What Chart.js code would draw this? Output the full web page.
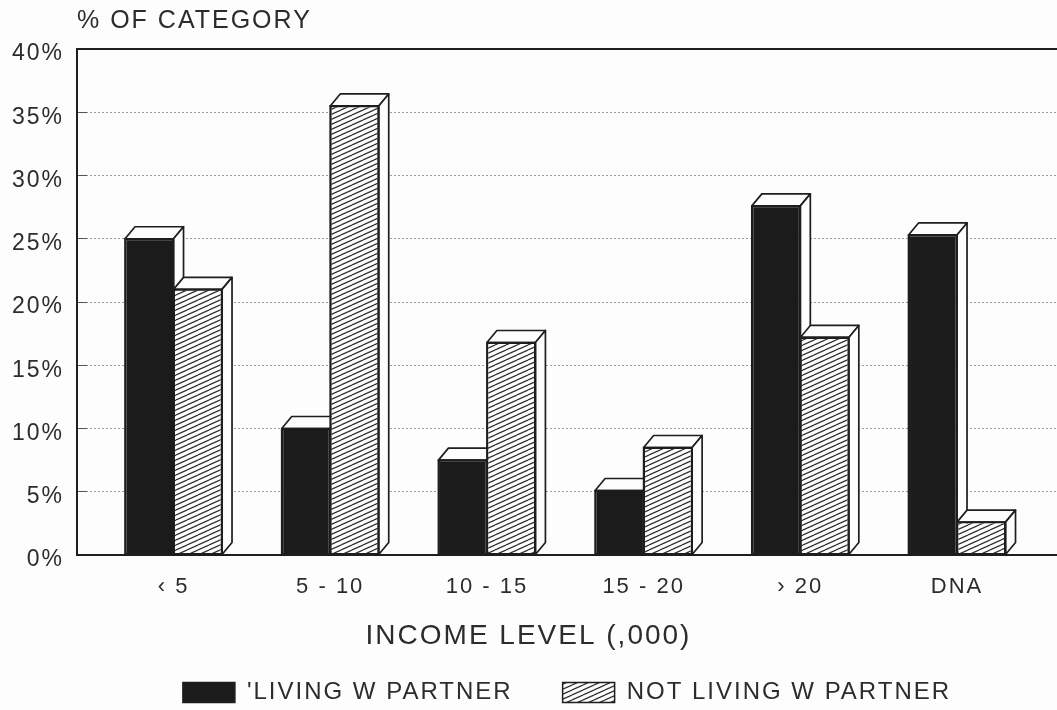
<!DOCTYPE html>
<html>
<head>
<meta charset="utf-8">
<script src="https://cdn.jsdelivr.net/npm/chart.js@4.4.1/dist/chart.umd.min.js"></script>
<style>
  html, body { margin: 0; padding: 0; background: #fdfdfd; }
  #wrap { position: relative; width: 1057px; height: 710px; }
</style>
</head>
<body>
<div id="wrap"><canvas id="chart"></canvas></div>
<script>
// Income level groups (thousands)
const categories = ['‹ 5', '5 - 10', '10 - 15', '15 - 20', '› 20', 'DNA'];
// Share of each income group, percent
const livingWithPartner    = [25, 10, 7.5, 5.1, 27.6, 25.3];
const notLivingWithPartner = [21, 35.5, 16.8, 8.5, 17.2, 2.6];
// Value axis
const yTicks = { min: 0, max: 40, step: 5 };
const seriesNames = ["'LIVING W PARTNER", 'NOT LIVING W PARTNER'];

const INK = '#1e1e1e';
const TEXT = '#2c2c2c';
const PAPER = '#fdfdfd';
const DEPTH_X = 10, DEPTH_Y = 12;   // extrusion of the 3-D bar faces
const X_MIN = -0.616, X_MAX = 5.638;

function hatchPattern() {
  const c = document.createElement('canvas');
  c.width = 11; c.height = 5;
  const g = c.getContext('2d');
  g.fillStyle = PAPER;
  g.fillRect(0, 0, 11, 5);
  g.strokeStyle = '#2a2a2a';
  g.lineWidth = 1.2;
  for (const off of [-5, 0, 5]) {
    g.beginPath();
    g.moveTo(0, 5 + off);
    g.lineTo(11, off);
    g.stroke();
  }
  return g.createPattern(c, 'repeat');
}
const hatch = hatchPattern();

Chart.defaults.font.family = "'Liberation Sans', Arial, sans-serif";
Chart.defaults.color = TEXT;

// wide letter spacing for all canvas text
const spacedText = {
  id: 'spacedText',
  beforeUpdate(chart) { chart.ctx.letterSpacing = '2px'; },
  beforeLayout(chart) { chart.ctx.letterSpacing = '2px'; },
  beforeDraw(chart) {
    const ctx = chart.ctx;
    ctx.letterSpacing = '2px';
    ctx.save();
    ctx.fillStyle = PAPER;
    ctx.fillRect(0, 0, chart.width, chart.height);
    ctx.restore();
  }
};

// draws the bars category by category, adding top and side faces
const blockBars = {
  id: 'blockBars',
  beforeDatasetsDraw(chart) {
    const ctx = chart.ctx;
    const metas = chart.getSortedVisibleDatasetMetas();
    for (let i = 0; i < categories.length; i++) {
      metas.forEach(meta => {
        const el = meta.data[i];
        if (!el) return;
        el.draw(ctx);
        const { x, y, base, width } = el.getProps(['x', 'y', 'base', 'width'], true);
        const l = x - width / 2, r = x + width / 2;
        ctx.save();
        ctx.fillStyle = PAPER;
        ctx.strokeStyle = INK;
        ctx.lineWidth = 1.7;
        ctx.lineJoin = 'round';
        ctx.beginPath();
        ctx.moveTo(l, y);
        ctx.lineTo(l + DEPTH_X, y - DEPTH_Y);
        ctx.lineTo(r + DEPTH_X, y - DEPTH_Y);
        ctx.lineTo(r, y);
        ctx.closePath();
        ctx.fill(); ctx.stroke();
        ctx.beginPath();
        ctx.moveTo(r, y);
        ctx.lineTo(r + DEPTH_X, y - DEPTH_Y);
        ctx.lineTo(r + DEPTH_X, base - DEPTH_Y);
        ctx.lineTo(r, base);
        ctx.closePath();
        ctx.fill(); ctx.stroke();
        ctx.beginPath();
        ctx.rect(l, y, width, base - y);
        ctx.stroke();
        ctx.restore();
      });
    }
    return false;
  }
};

new Chart(document.getElementById('chart'), {
  type: 'bar',
  data: {
    datasets: [
      {
        label: seriesNames[0],
        data: livingWithPartner.map((v, i) => ({ x: i, y: v })),
        backgroundColor: '#1b1b1b',
        borderColor: INK,
        borderWidth: 1.5,
        borderSkipped: false
      },
      {
        label: seriesNames[1],
        data: notLivingWithPartner.map((v, i) => ({ x: i, y: v })),
        backgroundColor: hatch,
        borderColor: INK,
        borderWidth: 1.5,
        borderSkipped: false
      }
    ]
  },
  options: {
    responsive: true,
    maintainAspectRatio: false,
    animation: false,
    events: [],
    layout: { padding: { top: 0, left: 0, right: 0, bottom: -4.6 } },
    datasets: { bar: { categoryPercentage: 0.619, barPercentage: 1 } },
    scales: {
      x: {
        type: 'linear',
        position: 'bottom',
        offset: false,
        min: X_MIN, max: X_MAX,
        afterBuildTicks(axis) { axis.ticks = categories.map((_, i) => ({ value: i })); },
        afterFit(axis) { axis.height = 50; },
        ticks: {
          autoSkip: false,
          maxRotation: 0,
          padding: 19,
          font: { size: 22 },
          color: TEXT,
          callback: v => categories[v]
        },
        grid: { display: false, drawTicks: false },
        border: { display: true, color: INK, width: 2 }
      },
      x2: {
        type: 'linear',
        position: 'top',
        offset: false,
        min: X_MIN, max: X_MAX,
        afterFit(axis) { axis.height = 49; },
        ticks: { display: false },
        grid: { display: false, drawTicks: false },
        border: { display: true, color: INK, width: 2 },
        title: {
          display: true,
          text: '% OF CATEGORY',
          align: 'start',
          color: TEXT,
          font: { size: 25 },
          padding: { top: 6, bottom: 0 }
        }
      },
      y: {
        min: yTicks.min,
        max: yTicks.max,
        afterFit(axis) { axis.width = 77; },
        ticks: {
          stepSize: yTicks.step,
          padding: 23,
          labelOffset: 5,
          font: { size: 23 },
          color: TEXT,
          callback: v => v + '%'
        },
        grid: {
          color: '#9c9c9c',
          lineWidth: 1,
          drawTicks: true,
          tickLength: -10,
          tickColor: '#555',
          tickWidth: 1
        },
        border: { display: true, color: INK, width: 2, dash: [2, 2] }
      }
    },
    plugins: {
      tooltip: { enabled: false },
      title: {
        display: true,
        position: 'bottom',
        weight: 500,
        text: 'INCOME LEVEL (,000)',
        color: TEXT,
        font: { size: 28, weight: 'normal' },
        padding: { top: 14, bottom: -22 }
      },
      legend: {
        display: true,
        position: 'bottom',
        fullSize: false,
        labels: {
          boxWidth: 52,
          boxHeight: 20,
          padding: 50,
          color: TEXT,
          font: { size: 24 }
        }
      }
    }
  },
  plugins: [spacedText, blockBars]
});
</script>
</body>
</html>
